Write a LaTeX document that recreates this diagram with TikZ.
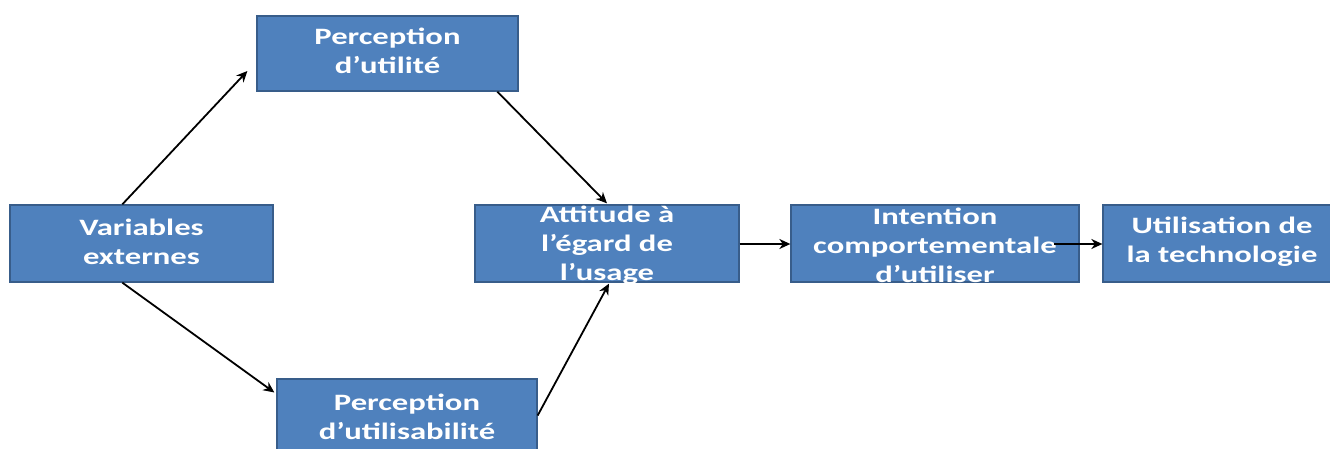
\documentclass[tikz,border=0pt]{standalone}
\usepackage{fontspec}
\usetikzlibrary{arrows.meta,calc}
\newfontfamily\boxfont{Carlito}[UprightFont=*-Bold, Extension=.ttf,
  FakeStretch=1.39]
\definecolor{boxblue}{HTML}{4F81BD}
\definecolor{boxedge}{HTML}{385D8A}
\tikzset{
  x=1pt, y=1pt,
  box/.style={draw=boxedge, line width=1.3pt, fill=boxblue, inner sep=0pt,
    minimum height=77pt},
  boxtext/.style={text=white, align=center, inner sep=0pt,
    font=\boxfont\fontsize{23.5}{29}\selectfont},
  link/.style={draw=black, line width=1.8pt,
    -{Stealth[length=11pt,width=10pt,inset=3.5pt]}}
}
\begin{document}
\begin{tikzpicture}
  \useasboundingbox (0,0) rectangle (1330,448);
  \clip (0,0) rectangle (1330,448);
  \fill[white] (0,0) rectangle (1330,448);

  % boxes of the model (y measured from the bottom edge)
  \node[box, minimum width=261pt, minimum height=75pt] (pu) at (387.5,394.5) {};
  \node[boxtext] (pu-t) at ($(pu)+(0,2.5)$) {Perception\\d’utilité};
  \node[box, minimum width=263pt] (ve) at (141.5,204.5) {};
  \node[boxtext] (ve-t) at ($(ve)+(0,1.5)$) {Variables\\externes};
  \node[box, minimum width=264pt] (at) at (607,204.5) {};
  \node[boxtext] (at-t) at ($(at)+(0,-1.5)$) {Attitude à\\l’égard de\\l’usage};
  \node[box, minimum width=288pt] (ic) at (935,204.5) {};
  \node[boxtext] (ic-t) at ($(ic)+(0,-1.5)$) {Intention\\comportementale\\d’utiliser};
  \node[box, minimum width=238pt] (ut) at (1222,204.5) {};
  \node[boxtext] (ut-t) at ($(ut)+(0,1.5)$) {Utilisation de\\la technologie};
  \node[box, minimum width=260pt, minimum height=79pt] (pa) at (407,29.5) {};
  \node[boxtext] (pa-t) at ($(pa)+(0,1.5)$) {Perception\\d’utilisabilité};

  % connectors
  \draw[link] ($(ve.north west)+(113,0)$) -- ($(pu.west)+(-9,-17.5)$);
  \draw[link] ($(pu.south west)+(241,0)$) -- ($(at.north)+(0,1)$);
  \draw[link] ($(ve.south west)+(113,0)$) -- ($(pa.west)+(-2,26)$);
  \draw[link] ($(pa.east)+(0,3)$) -- ($(at.south)+(2,-1)$);
  \draw[link] ($(at.east)+(0,-0.5)$) -- ($(ic.west)+(0,-0.5)$);
  \draw[link] ($(ic.east)+(-26,-0.5)$) -- ($(ut.west)+(0,-0.5)$);
\end{tikzpicture}
\end{document}
